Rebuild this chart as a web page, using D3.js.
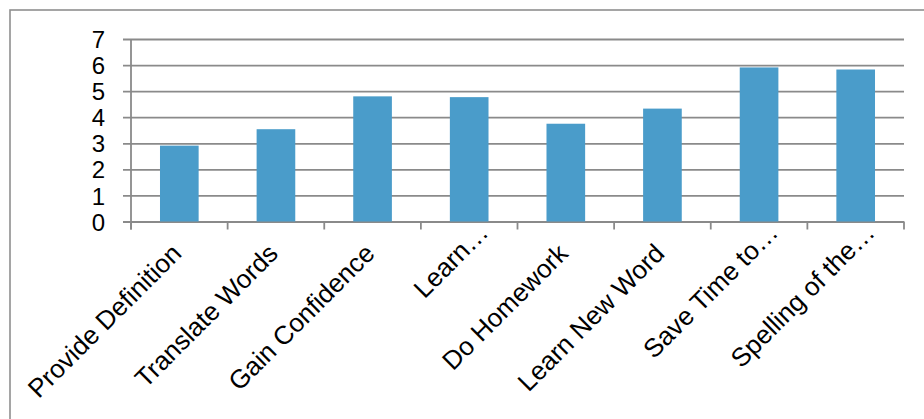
<!DOCTYPE html>
<html>
<head>
<meta charset="utf-8">
<script src="https://cdn.jsdelivr.net/npm/d3@7"></script>
<style>
  html, body { margin: 0; padding: 0; background: #fff; }
  svg { display: block; }
  text { font-family: "Liberation Sans", Arial, sans-serif; fill: #000; }
</style>
</head>
<body>
<svg id="chart" width="924" height="419"></svg>
<script>
// Survey categories and their mean scores
const categories = [
  "Provide Definition",
  "Translate Words",
  "Gain Confidence",
  "Learn\u2026",
  "Do Homework",
  "Learn New Word",
  "Save Time to\u2026",
  "Spelling of the\u2026"
];
const values = [2.91, 3.54, 4.80, 4.77, 3.75, 4.33, 5.91, 5.83];
const yTicks = [0, 1, 2, 3, 4, 5, 6, 7];

const W = 924, H = 419;
const plot = { left: 131, right: 904, top: 39, bottom: 221.5 };
const gridColor = "#8a8a8a";
const barColor = "#4a9cca";

const svg = d3.select("#chart");

// chart frame
svg.append("rect")
  .attr("x", 10).attr("y", 10)
  .attr("width", W + 20).attr("height", H + 20)
  .attr("fill", "#fff")
  .attr("stroke", "#8f8f8f")
  .attr("stroke-width", 1.6);

const x = d3.scaleBand()
  .domain(categories)
  .range([plot.left, plot.right])
  .paddingInner(0.6)
  .paddingOuter(0.3);

const y = d3.scaleLinear()
  .domain([0, 7])
  .range([plot.bottom, plot.top]);

// horizontal gridlines and y labels
const yAxis = d3.axisLeft(y)
  .tickValues(yTicks)
  .tickFormat(d3.format("d"));

const gy = svg.append("g")
  .attr("transform", `translate(${plot.right},0)`)
  .call(yAxis);
gy.select(".domain").remove();
gy.selectAll(".tick line")
  .attr("x1", 0)
  .attr("x2", -(plot.right - plot.left) - 8)
  .attr("stroke", gridColor)
  .attr("stroke-width", 1.8);
gy.selectAll(".tick text")
  .attr("x", -(plot.right - 105))
  .attr("dy", "0.36em")
  .attr("text-anchor", "end")
  .style("font-size", "24px")
  .style("font-family", "'Liberation Sans', Arial, sans-serif");

// vertical axis line
svg.append("line")
  .attr("x1", plot.left).attr("x2", plot.left)
  .attr("y1", plot.top).attr("y2", plot.bottom + 8)
  .attr("stroke", gridColor).attr("stroke-width", 1.8);

// bars
svg.append("g").selectAll("rect")
  .data(values)
  .join("rect")
  .attr("x", (d, i) => x(categories[i]))
  .attr("y", d => y(d))
  .attr("width", x.bandwidth())
  .attr("height", d => y(0) - y(d))
  .attr("fill", barColor);

// category boundary ticks
const step = x.step();
const boundaries = d3.range(categories.length + 1).map(i => plot.left + i * step);
svg.append("g").selectAll("line")
  .data(boundaries)
  .join("line")
  .attr("x1", d => d).attr("x2", d => d)
  .attr("y1", plot.bottom).attr("y2", plot.bottom + 8)
  .attr("stroke", gridColor).attr("stroke-width", 1.8);

// rotated category labels
const xAxis = d3.axisBottom(x).tickSize(0).tickPadding(0);
const gx = svg.append("g")
  .attr("transform", `translate(0,${plot.bottom})`)
  .call(xAxis);
gx.select(".domain").remove();
gx.selectAll(".tick text")
  .attr("text-anchor", "end")
  .attr("x", 0).attr("y", 0)
  .attr("transform", "translate(-3,27) rotate(-45)")
  .attr("dx", d => d.endsWith("\u2026") ? 27 : 0)
  .attr("dy", d => d.endsWith("\u2026") ? "0.25em" : "0.36em")
  .style("font-size", "26px")
  .style("font-family", "'Liberation Sans', Arial, sans-serif");
</script>
</body>
</html>
